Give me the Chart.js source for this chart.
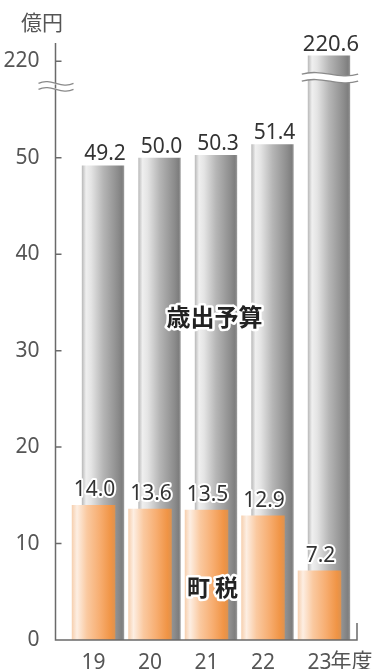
<!DOCTYPE html>
<html>
<head>
<meta charset="utf-8">
<script src="https://cdn.jsdelivr.net/npm/chart.js@4/dist/chart.umd.min.js"></script>
<style>
  html, body { margin: 0; padding: 0; background: #fff; }
  #wrap { width: 374px; height: 669px; position: relative; }
</style>
</head>
<body>
<div id="wrap"><canvas id="chart"></canvas></div>
<script>
const years   = ['19', '20', '21', '22', '23'];
const budget  = [49.2, 50.0, 50.3, 51.4, 220.6];   // 歳出予算
const townTax = [14.0, 13.6, 13.5, 12.9, 7.2];     // 町税
const yTicks  = [0, 10, 20, 30, 40, 50, 220];

const FONT = "'Noto Sans', 'Noto Sans CJK JP', sans-serif";
const JP   = "'Noto Sans CJK JP', 'Noto Sans', sans-serif";

// broken axis: everything above the break is pulled down by 160
const squash = v => v > 100 ? v - 160 : v;
const unsquash = v => v > 55 ? v + 160 : v;

const GRAY = [[0, '#b8b8b8'], [0.1, '#efefef'], [0.22, '#e4e4e4'], [0.5, '#b6b6b6'], [0.85, '#8c8c8c'], [0.95, '#7e7e7e'], [1, '#9c9c9c']];
const ORANGE = [[0, '#f6cfae'], [0.12, '#fdeee2'], [0.35, '#fac9a0'], [0.65, '#f7ad70'], [0.9, '#f09445'], [1, '#dc9250']];

// cylinder shading, worked out from the scale so it is ready on the first draw
const barGradient = (stops, axisId, pct) => ctx => {
  const chart = ctx.chart;
  const s = chart.scales[axisId];
  if (!chart.chartArea || !s || ctx.type !== 'data') return stops[3][1];
  const v = +years[ctx.dataIndex];
  const cx = s.getPixelForValue(v);
  const w = (s.getPixelForValue(v + 1) - cx) * pct;
  const g = chart.ctx.createLinearGradient(cx - w / 2, 0, cx + w / 2, 0);
  stops.forEach(([p, c]) => g.addColorStop(p, c));
  return g;
};

const decor = {
  id: 'decor',
  afterDatasetsDraw(chart) {
    const { ctx, chartArea: a, scales: { x, y } } = chart;
    const y0 = y.getPixelForValue(0);
    ctx.save();

    // axes
    ctx.strokeStyle = '#6a6a6a';
    ctx.lineWidth = 1.5;
    ctx.beginPath();
    ctx.moveTo(a.left, a.top); ctx.lineTo(a.left, y0);
    ctx.lineTo(a.right, y0); ctx.lineTo(a.right, y0 - 17);
    yTicks.forEach(t => {
      const py = y.getPixelForValue(squash(t));
      ctx.moveTo(a.left, py); ctx.lineTo(a.left + 6, py);
    });
    ctx.stroke();

    // value labels
    const label = (txt, px, py, size) => {
      ctx.font = `${size}px ${FONT}`;
      ctx.textAlign = 'center';
      ctx.textBaseline = 'alphabetic';
      ctx.lineJoin = 'round';
      ctx.strokeStyle = '#fff';
      ctx.lineWidth = 4;
      ctx.strokeText(txt, px, py);
      ctx.fillStyle = '#333';
      ctx.fillText(txt, px, py);
    };
    const gm = chart.getDatasetMeta(1), om = chart.getDatasetMeta(0);
    gm.data.forEach((el, i) => label(budget[i].toFixed(1), el.x + 2, el.y - 5, i === 4 ? 22 : 21));
    om.data.forEach((el, i) => label(townTax[i].toFixed(1), el.x + 1, el.y - 9, 21));

    // break marks
    const wave = (xl, xr, py, amp) => {
      ctx.moveTo(xl, py);
      ctx.bezierCurveTo(xl + (xr - xl) * 0.35, py - amp * 2, xl + (xr - xl) * 0.65, py + amp * 2, xr, py);
    };
    const brk = (xl, xr, py, gap) => {
      ctx.fillStyle = '#fff';
      ctx.beginPath();
      wave(xl, xr, py - gap / 2, 3);
      ctx.lineTo(xr, py + gap / 2);
      ctx.bezierCurveTo(xl + (xr - xl) * 0.65, py + gap / 2 + 6, xl + (xr - xl) * 0.35, py + gap / 2 - 6, xl, py + gap / 2);
      ctx.closePath();
      ctx.fill();
      ctx.strokeStyle = '#8a8a8a';
      ctx.lineWidth = 1.3;
      ctx.beginPath();
      wave(xl, xr, py - gap / 2, 3);
      wave(xl, xr, py + gap / 2, 3);
      ctx.stroke();
    };
    const last = gm.data[4];
    brk(last.x - last.width / 2 - 6, last.x + last.width / 2 + 8, y.getPixelForValue(58.3), 7);
    brk(a.left - 17, a.left + 18, y.getPixelForValue(57.4), 6);
    ctx.strokeStyle = '#6a6a6a';
    ctx.lineWidth = 1.5;
    ctx.beginPath();
    ctx.moveTo(a.left, y.getPixelForValue(57.4) - 2); ctx.lineTo(a.left, y.getPixelForValue(57.4) + 2);
    ctx.stroke();

    // unit and series names
    ctx.fillStyle = '#555';
    ctx.font = `21px ${JP}`;
    ctx.textAlign = 'center';
    ctx.textBaseline = 'middle';
    ctx.fillText('億円', 42, 22);

    const tick23 = x.getPixelForValue(23);
    ctx.textAlign = 'left';
    ctx.font = `21px ${JP}`;
    ctx.fillText('年度', tick23 + 11, y0 + 20);

    const name = (txt, px, py, size) => {
      ctx.font = `bold ${size}px ${JP}`;
      ctx.textAlign = 'center';
      ctx.textBaseline = 'middle';
      ctx.lineJoin = 'round';
      ctx.strokeStyle = '#fff';
      ctx.lineWidth = 5;
      ctx.strokeText(txt, px, py);
      ctx.fillStyle = '#222';
      ctx.fillText(txt, px, py);
    };
    name('歳出予算', x.getPixelForValue(21) + 8, y.getPixelForValue(33.5), 24);
    name('町 税', x.getPixelForValue(21) + 6, y.getPixelForValue(5.5), 23);
    ctx.restore();
  }
};

new Chart(document.getElementById('chart'), {
  type: 'bar',
  data: {
    labels: years,
    datasets: [
      {
        label: '町税', data: townTax, xAxisID: 'x',
        backgroundColor: barGradient(ORANGE, 'x', 0.77),
        barPercentage: 0.77, categoryPercentage: 1, grouped: false
      },
      {
        label: '歳出予算', data: budget.map(squash), xAxisID: 'x2',
        backgroundColor: barGradient(GRAY, 'x2', 0.75),
        barPercentage: 0.75, categoryPercentage: 1, grouped: false
      }
    ]
  },
  options: {
    responsive: true,
    maintainAspectRatio: false,
    animation: false,
    layout: { padding: { top: 43, right: 17, left: 0, bottom: 0 } },
    plugins: { legend: { display: false }, tooltip: { enabled: false } },
    scales: {
      x: {
        type: 'linear', min: 18.327, max: 23.664, offset: false,
        grid: { display: false }, border: { display: false },
        afterBuildTicks: s => { s.ticks = years.map(v => ({ value: +v })); },
        afterFit: s => { s.height = 29; },
        ticks: { color: '#555', font: { size: 21, family: FONT }, padding: 2, maxRotation: 0, autoSkip: false,
          callback: v => String(v) }
      },
      x2: {
        type: 'linear', min: 18.159, max: 23.496, offset: false, display: false
      },
      y: {
        min: 0, max: 61.9,
        grid: { display: false }, border: { display: false },
        afterBuildTicks: s => { s.ticks = yTicks.map(v => ({ value: squash(v) })); },
        afterFit: s => { s.width = 55.5; },
        ticks: { color: '#555', font: { size: 21, family: FONT }, padding: 8,
          callback: v => String(unsquash(v)) }
      }
    }
  },
  plugins: [decor]
});
</script>
</body>
</html>
